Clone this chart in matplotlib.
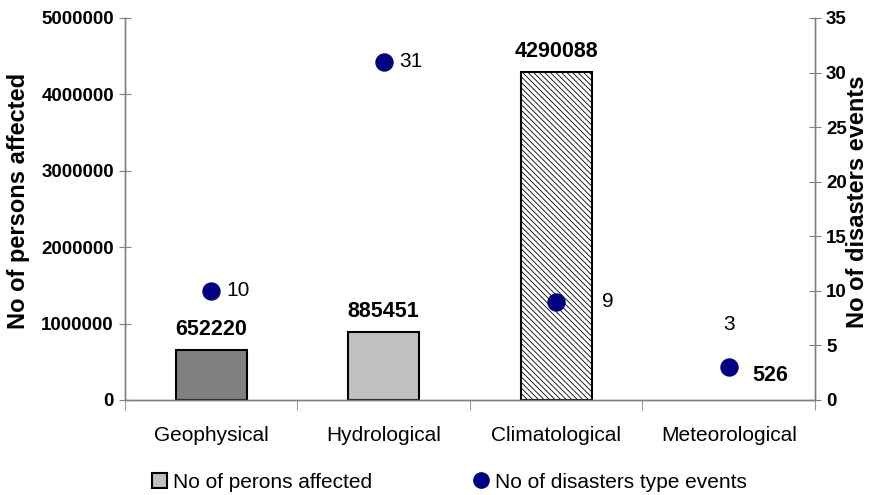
import matplotlib
matplotlib.use("Agg")
import matplotlib.pyplot as plt
from matplotlib.lines import Line2D
from matplotlib.patches import Patch

plt.rcParams['font.family'] = ['Liberation Sans', 'DejaVu Sans']
plt.rcParams['hatch.linewidth'] = 0.6
plt.rcParams['hatch.color'] = '#606060'

categories = ["Geophysical", "Hydrological", "Climatological", "Meteorological"]
persons = [652220, 885451, 4290088, 526]
events = [10, 31, 9, 3]
person_labels = ["652220", "885451", "4290088", "526"]
event_labels = ["10", "31", "9", "3"]

fig = plt.figure(figsize=(8.7, 4.95), dpi=100)
ax = fig.add_axes([125/870, 1-400/495, 690/870, 382/495])
ax2 = ax.twinx()

x = list(range(len(categories)))
faces = ['#808080', '#c0c0c0', 'white', 'white']
hatches = [None, None, '\\\\\\\\\\\\', None]
edges = ['black', 'black', 'black', 'none']
for i in x:
    ax.bar(i, persons[i], width=0.41, color=faces[i], edgecolor=edges[i],
           linewidth=1.5, hatch=hatches[i], zorder=2)

ax.set_xlim(-0.5, 3.5)
ax.set_ylim(0, 5000000)
ax.set_yticks(range(0, 5000001, 1000000))
ax.set_yticklabels([str(v) for v in range(0, 5000001, 1000000)], fontweight='bold', fontsize=13.5)
ax.set_xticks(x)
ax.set_xticklabels(categories, fontsize=15)
ax.tick_params(axis='x', length=0, pad=19)
ax.set_xticks([-0.5, 0.5, 1.5, 2.5, 3.5], minor=True)
ax.tick_params(axis='x', which='minor', length=7, direction='out', color='#808080')
ax.tick_params(axis='y', direction='inout', length=8, color='#808080', pad=4)
ax.set_ylabel("No of persons affected", fontsize=17, fontweight='bold', va='center', ha='center')
ax.yaxis.set_label_coords(-0.155, 0.52)

ax2.set_ylim(0, 35)
ax2.set_yticks(range(0, 36, 5))
ax2.set_yticklabels([str(v) for v in range(0, 36, 5)], fontweight='bold', fontsize=13.5)
ax2.tick_params(axis='y', direction='inout', length=8, color='#808080', pad=4)
ax2.set_ylabel("No of disasters events", fontsize=17, fontweight='bold', rotation=90,
               va='center', ha='center')
ax2.yaxis.set_label_coords(1.062, 0.52)
ax2.scatter(x, events, s=150, color='#000080', zorder=3)

for a in (ax, ax2):
    a.spines['top'].set_visible(False)
    for s in ('left', 'right', 'bottom'):
        a.spines[s].set_color('#808080')
        a.spines[s].set_linewidth(1.0)

# bar labels (bold)
for i in x:
    if i == 3:
        ax2.annotate(person_labels[i], (i, events[i]), xytext=(42, -8), textcoords='offset pixels',
                     ha='center', va='center', fontsize=15.5, fontweight='bold')
    else:
        ax.annotate(person_labels[i], (i, persons[i]), xytext=(0, 21), textcoords='offset pixels',
                    ha='center', va='center', fontsize=15.5, fontweight='bold')

# event labels
ev_offsets = [(27, 0), (27, 0), (52, 0), (0, 43)]
for i in x:
    dx, dy = ev_offsets[i]
    ax2.annotate(event_labels[i], (i, events[i]), xytext=(dx, dy), textcoords='offset pixels',
                 ha='center', va='center', fontsize=15)

handles = [Patch(facecolor='#c0c0c0', edgecolor='black', linewidth=1.5),
           Line2D([], [], marker='o', linestyle='', color='#000080', markersize=11)]
fig.legend(handles, ["No of perons affected", "No of disasters type events"],
           loc='center left', bbox_to_anchor=(152/870, 1-482/495), ncol=2, frameon=False,
           fontsize=15, handlelength=0.7, handleheight=0.7, handletextpad=0.3,
           columnspacing=4.9, borderpad=0, borderaxespad=0)

fig.savefig("out.png", dpi=100)
